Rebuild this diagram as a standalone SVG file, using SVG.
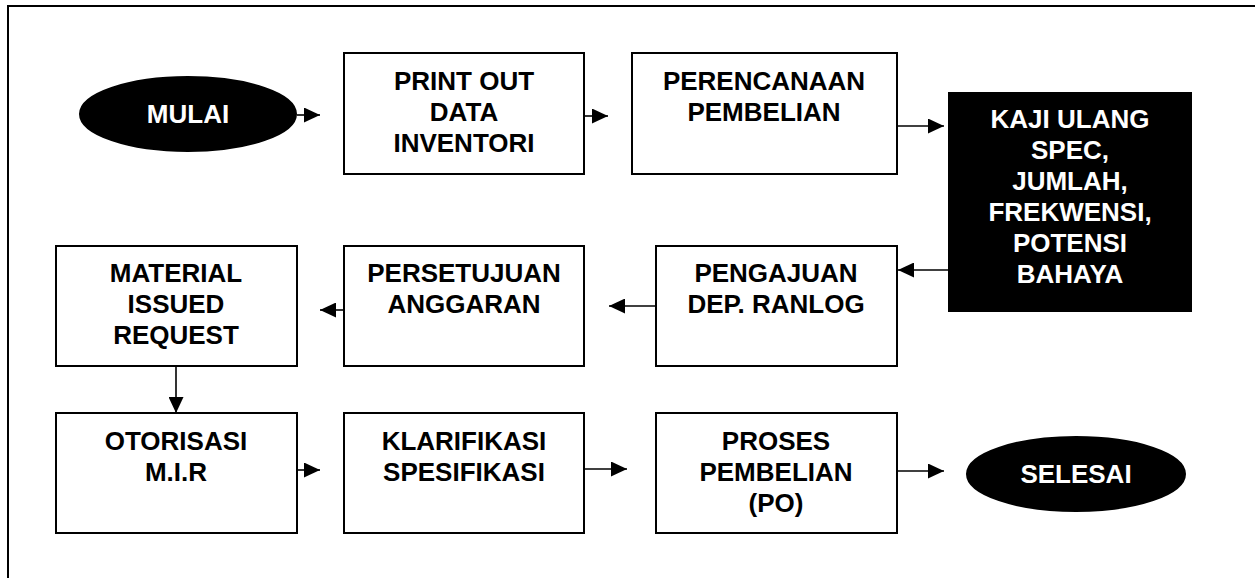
<svg xmlns="http://www.w3.org/2000/svg" width="1255" height="578" viewBox="0 0 1255 578">
  <defs>
    <marker id="ah" markerUnits="userSpaceOnUse" markerWidth="16" markerHeight="15" refX="16" refY="7.5" orient="auto">
      <path d="M0,0 L16,7.5 L0,15 Z" fill="#000"/>
    </marker>
    <style>
      .box { fill: #fff; stroke: #000; stroke-width: 2; }
      .dark { fill: #000; stroke: #000; stroke-width: 2; }
      .t { font-family: "Liberation Sans", Arial, sans-serif; font-weight: bold; font-size: 26px; text-anchor: middle; fill: #000; }
      .w { fill: #fff; }
      .c { stroke: #000; stroke-width: 1.6; fill: none; marker-end: url(#ah); }
    </style>
  </defs>
  <rect width="1255" height="578" fill="#fff"/>
  <path d="M8,590 L8,6 L1270,6" fill="none" stroke="#000" stroke-width="2"/>

  <g id="mulai">
    <ellipse class="dark" cx="188" cy="114" rx="108" ry="37"/>
    <text class="t w" x="188" y="123">MULAI</text>
  </g>
  <g id="print-out">
    <rect class="box" x="344" y="53" width="240" height="121"/>
    <text class="t" x="464" y="90">PRINT OUT</text>
    <text class="t" x="464" y="121">DATA</text>
    <text class="t" x="464" y="152">INVENTORI</text>
  </g>
  <g id="perencanaan">
    <rect class="box" x="632" y="53" width="265" height="121"/>
    <text class="t" x="764" y="90">PERENCANAAN</text>
    <text class="t" x="764" y="121">PEMBELIAN</text>
  </g>
  <g id="kaji-ulang">
    <rect class="dark" x="949" y="93" width="242" height="218"/>
    <text class="t w" x="1070" y="128">KAJI ULANG</text>
    <text class="t w" x="1070" y="159">SPEC,</text>
    <text class="t w" x="1070" y="190">JUMLAH,</text>
    <text class="t w" x="1070" y="221">FREKWENSI,</text>
    <text class="t w" x="1070" y="252">POTENSI</text>
    <text class="t w" x="1070" y="283">BAHAYA</text>
  </g>
  <g id="pengajuan">
    <rect class="box" x="656" y="246" width="241" height="120"/>
    <text class="t" x="776" y="282">PENGAJUAN</text>
    <text class="t" x="776" y="313">DEP. RANLOG</text>
  </g>
  <g id="persetujuan">
    <rect class="box" x="344" y="246" width="240" height="120"/>
    <text class="t" x="464" y="282">PERSETUJUAN</text>
    <text class="t" x="464" y="313">ANGGARAN</text>
  </g>
  <g id="material">
    <rect class="box" x="56" y="246" width="241" height="120"/>
    <text class="t" x="176" y="282">MATERIAL</text>
    <text class="t" x="176" y="313">ISSUED</text>
    <text class="t" x="176" y="344">REQUEST</text>
  </g>
  <g id="otorisasi">
    <rect class="box" x="56" y="413" width="241" height="120"/>
    <text class="t" x="176" y="450">OTORISASI</text>
    <text class="t" x="176" y="481">M.I.R</text>
  </g>
  <g id="klarifikasi">
    <rect class="box" x="344" y="413" width="240" height="120"/>
    <text class="t" x="464" y="450">KLARIFIKASI</text>
    <text class="t" x="464" y="481">SPESIFIKASI</text>
  </g>
  <g id="proses">
    <rect class="box" x="656" y="413" width="241" height="120"/>
    <text class="t" x="776" y="450">PROSES</text>
    <text class="t" x="776" y="481">PEMBELIAN</text>
    <text class="t" x="776" y="512">(PO)</text>
  </g>
  <g id="selesai">
    <ellipse class="dark" cx="1076" cy="474" rx="109" ry="37"/>
    <text class="t w" x="1076" y="483">SELESAI</text>
  </g>

  <g id="connectors">
    <line class="c" x1="297" y1="115" x2="320" y2="115"/>
    <line class="c" x1="584" y1="116" x2="608" y2="116"/>
    <line class="c" x1="897" y1="126" x2="944" y2="126"/>
    <line class="c" x1="949" y1="270" x2="898" y2="270"/>
    <line class="c" x1="656" y1="306" x2="609" y2="306"/>
    <line class="c" x1="344" y1="310" x2="320" y2="310"/>
    <line class="c" x1="176" y1="366" x2="176" y2="413"/>
    <line class="c" x1="297" y1="470" x2="320" y2="470"/>
    <line class="c" x1="584" y1="469" x2="627" y2="469"/>
    <line class="c" x1="897" y1="471" x2="944" y2="471"/>
  </g>
</svg>
